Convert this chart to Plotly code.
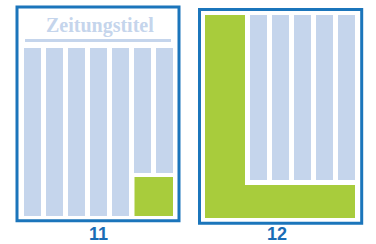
import plotly.graph_objects as go

# ---- data ----
page_labels = ["11", "12"]
page_columns = [7, 5]            # text columns on each page
page_title = ["Zeitungstitel", ""]
ad_type = ["box", "L"]           # ad placement kind

# ---- styles ----
BORDER = "#1b75bb"
COL = "#c5d5ec"
AD = "#a8cc3c"
LABEL = "#1a6cb5"

fig = go.Figure()
shapes = []
annotations = []

def rect(x0, y0, x1, y1, color):
    shapes.append(dict(type="rect", xref="x", yref="y", x0=x0, x1=x1, y0=y0, y1=y1,
                       fillcolor=color, line=dict(width=0), layer="above"))

def border(x0, y0, x1, y1):
    shapes.append(dict(type="rect", xref="x", yref="y", x0=x0, x1=x1, y0=y0, y1=y1,
                       fillcolor="white", line=dict(color=BORDER, width=3), layer="below"))

colw, pitch = 17, 22

# Page 11
border(17, 7, 179, 220.7)
rect(25, 39, 171, 42, COL)
annotations.append(dict(x=100, y=25, xref="x", yref="y", text="<b>%s</b>" % page_title[0], showarrow=False,
                        font=dict(family="Liberation Serif", size=20, color=COL),
                        xanchor="center", yanchor="middle"))
for i in range(page_columns[0]):
    x0 = 24 + i * pitch
    if i >= 5:
        rect(x0, 48, x0 + colw, 173, COL)
    else:
        rect(x0, 48, x0 + colw, 216, COL)
rect(134.5, 177, 173, 216, AD)

# Page 12
border(199.5, 9.5, 361.7, 223.3)
rect(205, 15, 245, 218, AD)
rect(205, 185, 355, 218, AD)
for i in range(page_columns[1]):
    x0 = 250 + i * pitch
    rect(x0, 15, x0 + colw, 180, COL)

for lbl, xc in zip(page_labels, [98, 276.5]):
    annotations.append(dict(x=xc, y=233.5, xref="x", yref="y", text="<b>%s</b>" % lbl,
                            showarrow=False, font=dict(family="Liberation Sans", size=18, color=LABEL),
                            xanchor="center", yanchor="middle"))

fig.add_trace(go.Scatter(x=[0, 376], y=[0, 244], mode="markers", marker=dict(opacity=0),
                         hoverinfo="skip", showlegend=False))
fig.update_layout(
    width=376, height=244, margin=dict(l=0, r=0, t=0, b=0),
    paper_bgcolor="white", plot_bgcolor="white",
    xaxis=dict(range=[0, 376], visible=False, fixedrange=True),
    yaxis=dict(range=[244, 0], visible=False, fixedrange=True),
    shapes=shapes, annotations=annotations, showlegend=False,
)
fig.write_html("out.html", config={"displayModeBar": False},
               post_script="document.body.style.margin='0';document.body.style.overflow='hidden';")
